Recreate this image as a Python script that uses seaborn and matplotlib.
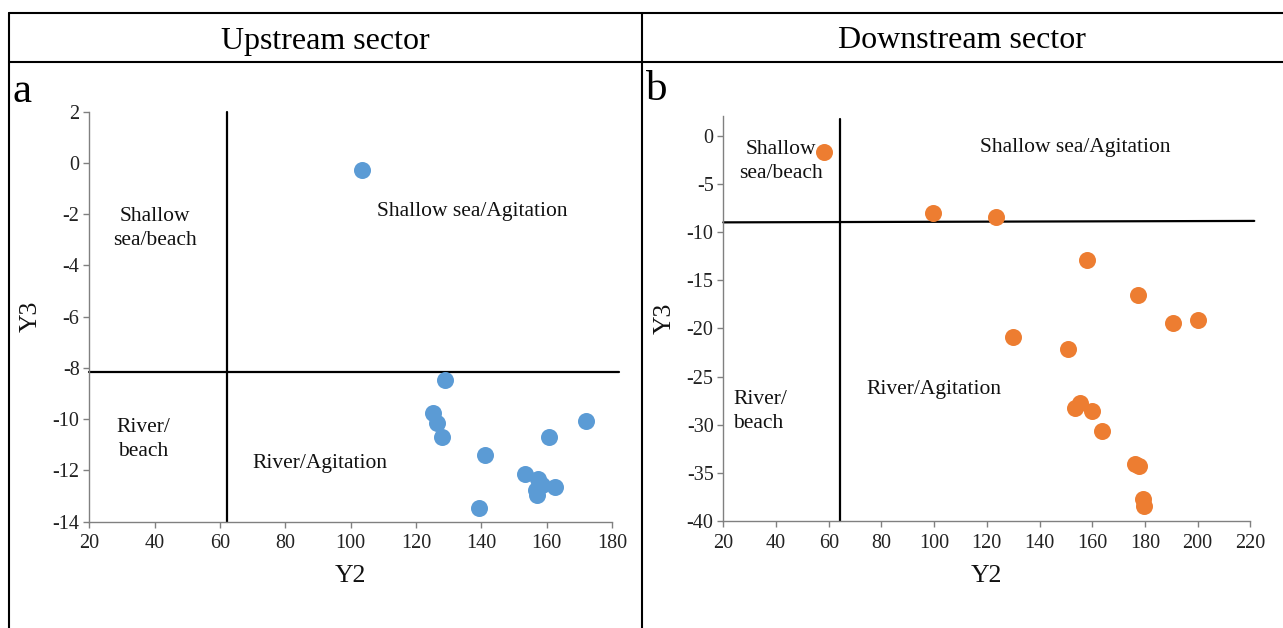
import matplotlib
matplotlib.use("Agg")
import matplotlib.pyplot as plt
from matplotlib.lines import Line2D
import numpy as np
import pandas as pd
import seaborn as sns

# ---- data -------------------------------------------------------------
up_y2 = [103.6, 128.9, 125.3, 126.3, 127.9, 141.1, 139.4, 160.7, 172.0,
         153.4, 157.4, 158.5, 162.5, 156.9, 156.6]
up_y3 = [-0.28, -8.47, -9.77, -10.14, -10.69, -11.40, -13.47, -10.68, -10.08,
         -12.12, -12.33, -12.57, -12.63, -12.96, -12.78]

down_y2 = [58.4, 99.6, 123.5, 158.2, 177.3, 190.7, 200.0, 130.1, 150.9,
           155.3, 153.6, 159.8, 163.6, 176.2, 177.7, 179.2, 179.8]
down_y3 = [-1.73, -8.0, -8.47, -12.9, -16.5, -19.4, -19.1, -20.9, -22.14,
           -27.78, -28.3, -28.58, -30.65, -34.1, -34.3, -37.75, -38.4]

up_xticks = list(range(20, 181, 20))
up_yticks = list(range(-14, 3, 2))
down_xticks = list(range(20, 221, 20))
down_yticks = list(range(-40, 1, 5))

# boundary lines separating the fields (Y2 threshold, Y3 threshold)
up_vline = 62.0
up_hline = -8.15
down_vline = 64.3
down_hline = (-9.0, -8.85)

panel_titles = ["Upstream sector", "Downstream sector"]
panel_letters = ["a", "b"]

# ---- style ------------------------------------------------------------
sns.set_theme(style="white")
plt.rcParams["font.family"] = ["Liberation Serif", "DejaVu Serif"]
plt.rcParams["axes.unicode_minus"] = False

W, H = 1283, 628
fig = plt.figure(figsize=(W / 100, H / 100), dpi=100)
fig.patch.set_facecolor("white")


def px_axes(x0, x1, ytop, ybot):
    return fig.add_axes([x0 / W, 1 - ybot / H, (x1 - x0) / W, (ybot - ytop) / H])


axL = px_axes(89.3, 612.0, 111.7, 521.7)
axR = px_axes(723.3, 1250.3, 116.4, 521.0)

blue = "#5B9BD5"
orange = "#ED7D31"
spine_col = "#808080"

df_up = pd.DataFrame({"Y2": up_y2, "Y3": up_y3})
df_down = pd.DataFrame({"Y2": down_y2, "Y3": down_y3})

sns.scatterplot(data=df_up, x="Y2", y="Y3", ax=axL, color=blue, s=150,
                linewidth=0, zorder=3)
sns.scatterplot(data=df_down, x="Y2", y="Y3", ax=axR, color=orange, s=150,
                linewidth=0, zorder=3)

axL.set_xlim(20, 180)
axL.set_ylim(-14, 2)
axL.set_xticks(up_xticks)
axL.set_yticks(up_yticks)
axR.set_xlim(20, 220)
axR.set_ylim(-40, 2)
axR.set_xticks(down_xticks)
axR.set_yticks(down_yticks)

for ax, ycoord in ((axL, -0.113), (axR, -0.111)):
    ax.set_facecolor("white")
    ax.grid(False)
    for side in ("top", "right"):
        ax.spines[side].set_visible(False)
    for side in ("left", "bottom"):
        ax.spines[side].set_color(spine_col)
        ax.spines[side].set_linewidth(1.0)
    ax.tick_params(axis="both", which="major", direction="out", length=4,
                   width=1, color=spine_col, labelsize=14.5, labelcolor="#222222",
                   pad=3, bottom=True, left=True)
    ax.tick_params(axis="x", pad=5)
    ax.set_xlabel("Y2", fontsize=18.5, color="#111111")
    ax.set_ylabel("Y3", fontsize=18.5, color="#111111")
    ax.xaxis.label.set_va("center")
    ax.yaxis.label.set_va("center")
    ax.yaxis.set_label_coords(ycoord, 0.5)

axL.xaxis.set_label_coords(0.5, -0.132)
axR.xaxis.set_label_coords(0.5, -0.136)

# field boundaries
lw = 1.6
axL.plot([up_vline, up_vline], [-14, 2], color="black", lw=lw, clip_on=False, zorder=2)
axL.plot([20, 182], [up_hline, up_hline], color="black", lw=lw, clip_on=False, zorder=2)
axR.plot([down_vline, down_vline], [-40, 1.7], color="black", lw=lw, clip_on=False, zorder=2)
axR.plot([20, 221.5], list(down_hline), color="black", lw=lw, clip_on=False, zorder=2)

# field labels
fs = 15.5
txt = dict(fontsize=fs, ha="center", va="center", color="#111111",
           linespacing=1.38, zorder=4)
axL.text(40.1, -2.55, "Shallow\nsea/beach", **txt)
axL.text(36.5, -10.8, "River/\nbeach", **txt)
axL.text(137.3, -1.9, "Shallow sea/Agitation", **txt)
axL.text(90.5, -11.72, "River/Agitation", **txt)

axR.text(41.9, -2.7, "Shallow\nsea/beach", **txt)
axR.text(33.9, -28.6, "River/\nbeach", **txt, multialignment="left")
axR.text(153.4, -1.2, "Shallow sea/Agitation", **txt)
axR.text(100.0, -26.4, "River/Agitation", **txt)

# table frame around the two panels
def fig_line(x0, y0, x1, y1):
    fig.add_artist(Line2D([x0 / W, x1 / W], [1 - y0 / H, 1 - y1 / H],
                          transform=fig.transFigure, color="black", lw=1.5))

fig_line(9, 13, W, 13)
fig_line(9, 62, W, 62)
fig_line(9, 13, 9, H)
fig_line(642, 13, 642, H)

fig.text(325 / W, 1 - 41 / H, panel_titles[0], fontsize=23, ha="center",
         va="center", color="black")
fig.text(962 / W, 1 - 41 / H, panel_titles[1], fontsize=23, ha="center",
         va="center", color="black")
fig.text(13 / W, 1 - 102 / H, panel_letters[0], fontsize=31, ha="left",
         va="baseline", color="black")
fig.text(646 / W, 1 - 100 / H, panel_letters[1], fontsize=31, ha="left",
         va="baseline", color="black")

fig.savefig("out.png", dpi=100, facecolor="white")
